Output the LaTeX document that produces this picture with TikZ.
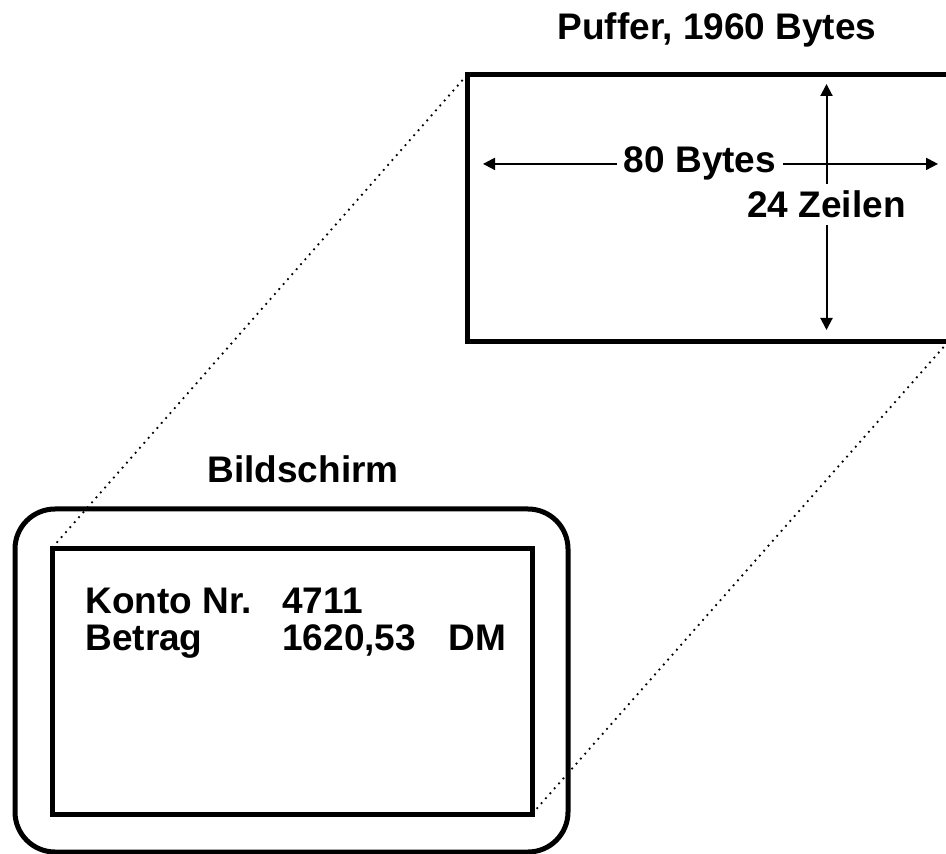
\documentclass[tikz,border=0pt]{standalone}
\usepackage{fontspec}
\setmainfont{Liberation Sans}
\usepackage{tikz}
\usetikzlibrary{arrows.meta, positioning}

\begin{document}
\begin{tikzpicture}[x=0.5pt, y=-0.5pt,
    every node/.style={font=\fontsize{18.5}{22}\selectfont\bfseries},
    frame/.style={draw, line width=2.5pt, inner sep=0pt, outer sep=0pt},
    dim/.style={-{Triangle[length=6pt, width=6pt]}, line width=1pt},
    zoomline/.style={line width=0.9pt, dash pattern=on 0.9pt off 2.4pt}]
    \useasboundingbox (0,0) rectangle (946,854);
    \clip (0,0) rectangle (946,854);
    % Buffer
    \node[frame, minimum width=240.5pt, minimum height=133.5pt] (buffer) at (707.5, 208.5) {};
    \node[anchor=base] (buftitle) at (717, 40) {Puffer, 1960 Bytes};
    % Dimensions
    \node[anchor=base] (bytes) at (700, 173) {80 Bytes};
    \node[anchor=base] (zeilen) at (826.5, 218) {24 Zeilen};
    \coordinate (bl) at (483, 162);
    \coordinate (br) at (938, 162);
    \coordinate (zt) at (827, 84);
    \coordinate (zb) at (827, 330);
    \draw[dim] (bytes.west) -- (bytes.west -| bl);
    \draw[dim] (bytes.east) -- (bytes.east -| br);
    \draw[dim] (zeilen.north) -- (zeilen.north |- zt);
    \draw[dim] (zeilen.south) -- (zeilen.south |- zb);
    % Screen
    \node[frame, rounded corners=20pt, minimum width=276.5pt, minimum height=171.5pt] (screen) at (291.5, 680.5) {};
    \node[frame, minimum width=240pt, minimum height=133pt] (display) at (292, 681) {};
    \node[anchor=base] (scrtitle) at (303, 483) {Bildschirm};
    % Screen content
    \node[anchor=base west, inner sep=0pt] (konto) at (85, 613) {Konto Nr.};
    \node[anchor=base west, inner sep=0pt] (nr) at (282, 613) {4711};
    \node[anchor=base west, inner sep=0pt] (betrag) at (85, 650) {Betrag};
    \node[anchor=base west, inner sep=0pt] (wert) at (282, 650) {1620,53};
    \node[anchor=base west, inner sep=0pt] (dm) at (448, 650) {DM};
    % Zoom lines
    \draw[zoomline] (buffer.north west) -- (display.north west);
    \draw[zoomline] (buffer.south east) -- (display.south east);
\end{tikzpicture}
\end{document}
